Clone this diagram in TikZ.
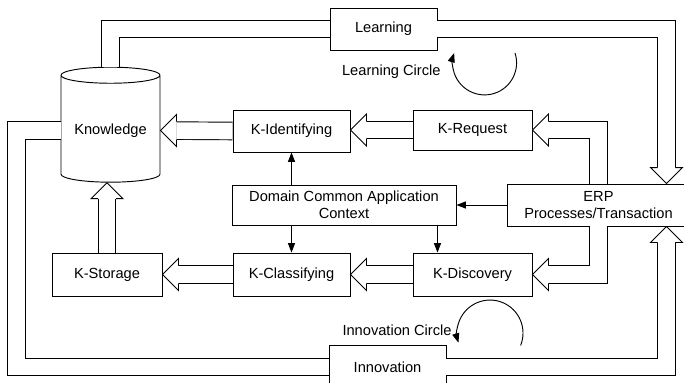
\documentclass[tikz,border=0pt]{standalone}
\usepackage{fontspec}
\setmainfont{Liberation Sans}
\usetikzlibrary{arrows.meta,calc,shapes.geometric}

% open head of a wide arrow, tip at #1, pointing to the angle #2
\newcommand{\fathead}[2]{%
  \filldraw[fill=white, line width=0.8pt, shift={(#1)}, rotate=#2]
    (-16,9) -- (-16,16) -- (0,0) -- (-16,-16) -- (-16,-9);}

\begin{document}
\begin{tikzpicture}[x=0.03cm, y=0.03cm,
    font=\fontsize{12.5}{14.5}\selectfont,
    box/.style={draw, line width=0.8pt, fill=white, inner sep=1pt},
    fat/.style={line width=0.8pt, double distance=0.5cm},
    fatto/.style={fat, shorten >=0.48cm},
    arr/.style={line width=0.8pt, -{Triangle[length=8pt, width=6pt]}}]

    % Page
    \useasboundingbox (0,0) rectangle (684,-382);
    \fill[white] (0,0) rectangle (684,-382);

    % Knowledge store
    \node (know) [cylinder, shape border rotate=90, aspect=0.2, draw, line width=0.8pt,
        fill=white, minimum width=2.97cm, minimum height=3.45cm] at (110.5,-130.5) {Knowledge};

    % Steps
    \node (learn) [box, minimum width=3.21cm, minimum height=1.26cm] at (383.5,-29) {Learning};
    \node (kid)   [box, minimum width=3.51cm, minimum height=1.26cm] at (291.5,-131) {K-Identifying};
    \node (kreq)  [box, minimum width=3.57cm, minimum height=1.20cm] at (472.5,-130) {K-Request};
    \node (dom)   [box, minimum width=6.72cm, minimum height=1.20cm, align=center] at (344,-205)
        {Domain Common Application\\Context};
    \node (erp)   [box, minimum width=5.49cm, minimum height=1.26cm, align=center] at (598.5,-205)
        {ERP\\Processes/Transaction};
    \node (kstor) [box, minimum width=3.30cm, minimum height=1.29cm] at (107,-274.5) {K-Storage};
    \node (kcls)  [box, minimum width=3.51cm, minimum height=1.29cm] at (291.5,-274.5) {K-Classifying};
    \node (kdis)  [box, minimum width=3.57cm, minimum height=1.29cm] at (472.5,-274.5) {K-Discovery};
    \node (innov) [box, minimum width=3.51cm, minimum height=1.32cm] at (387.5,-367) {Innovation};

    % Wide arrows between the steps
    \draw[fatto] (kid.west) -- (know.east);
    \fathead{know.east}{180}
    \draw[fatto] (kreq.west) -- (kreq.west -| kid.east);
    \fathead{kreq.west -| kid.east}{180}
    \draw[fatto] (kcls.west) -- (kstor.east);
    \fathead{kstor.east}{180}
    \draw[fatto] (kdis.west) -- (kcls.east);
    \fathead{kcls.east}{180}
    \draw[fatto] (kstor.north) -- (kstor.north |- know.south);
    \fathead{kstor.north |- know.south}{90}
    \draw[fatto] (erp.north) |- (kreq.east);
    \fathead{kreq.east}{180}
    \draw[fatto] (erp.south) |- (kdis.east);
    \fathead{kdis.east}{180}

    % Learning loop
    \draw[fat] (know.north) |- (learn.west);
    \coordinate (etop) at ($(erp.north east)+(-24,0)$);
    \draw[fatto] (learn.east) -| (etop);
    \fathead{etop}{-90}

    % Innovation loop
    \draw[fat] (know.west) -- ++(-44,0) |- (innov.west);
    \coordinate (ebot) at ($(erp.south east)+(-24,0)$);
    \draw[fatto] (innov.east) -| (ebot);
    \fathead{ebot}{90}

    % Context arrows
    \draw[arr] (erp.west) -- (dom.east);
    \draw[arr] (kid.south |- dom.north) -- (kid.south);
    \draw[arr] (kcls.north |- dom.south) -- (kcls.north);
    \coordinate (dsplit) at ($(dom.south east)+(-19,0)$);
    \draw[arr] (dsplit) -- (dsplit |- kdis.north);

    % Circles
    \node (lcirc) [anchor=east, inner sep=1pt] at (442,-72) {Learning Circle};
    \draw[arr] ($(lcirc.east)+(73,19)$) arc[start angle=18, end angle=-198, radius=0.96cm];
    \node (icirc) [anchor=east, inner sep=1pt] at (453,-330) {Innovation Circle};
    \draw[arr] ($(icirc.east)+(67.6,-15.4)$) arc[start angle=-22, end angle=197, radius=0.99cm];
\end{tikzpicture}
\end{document}
